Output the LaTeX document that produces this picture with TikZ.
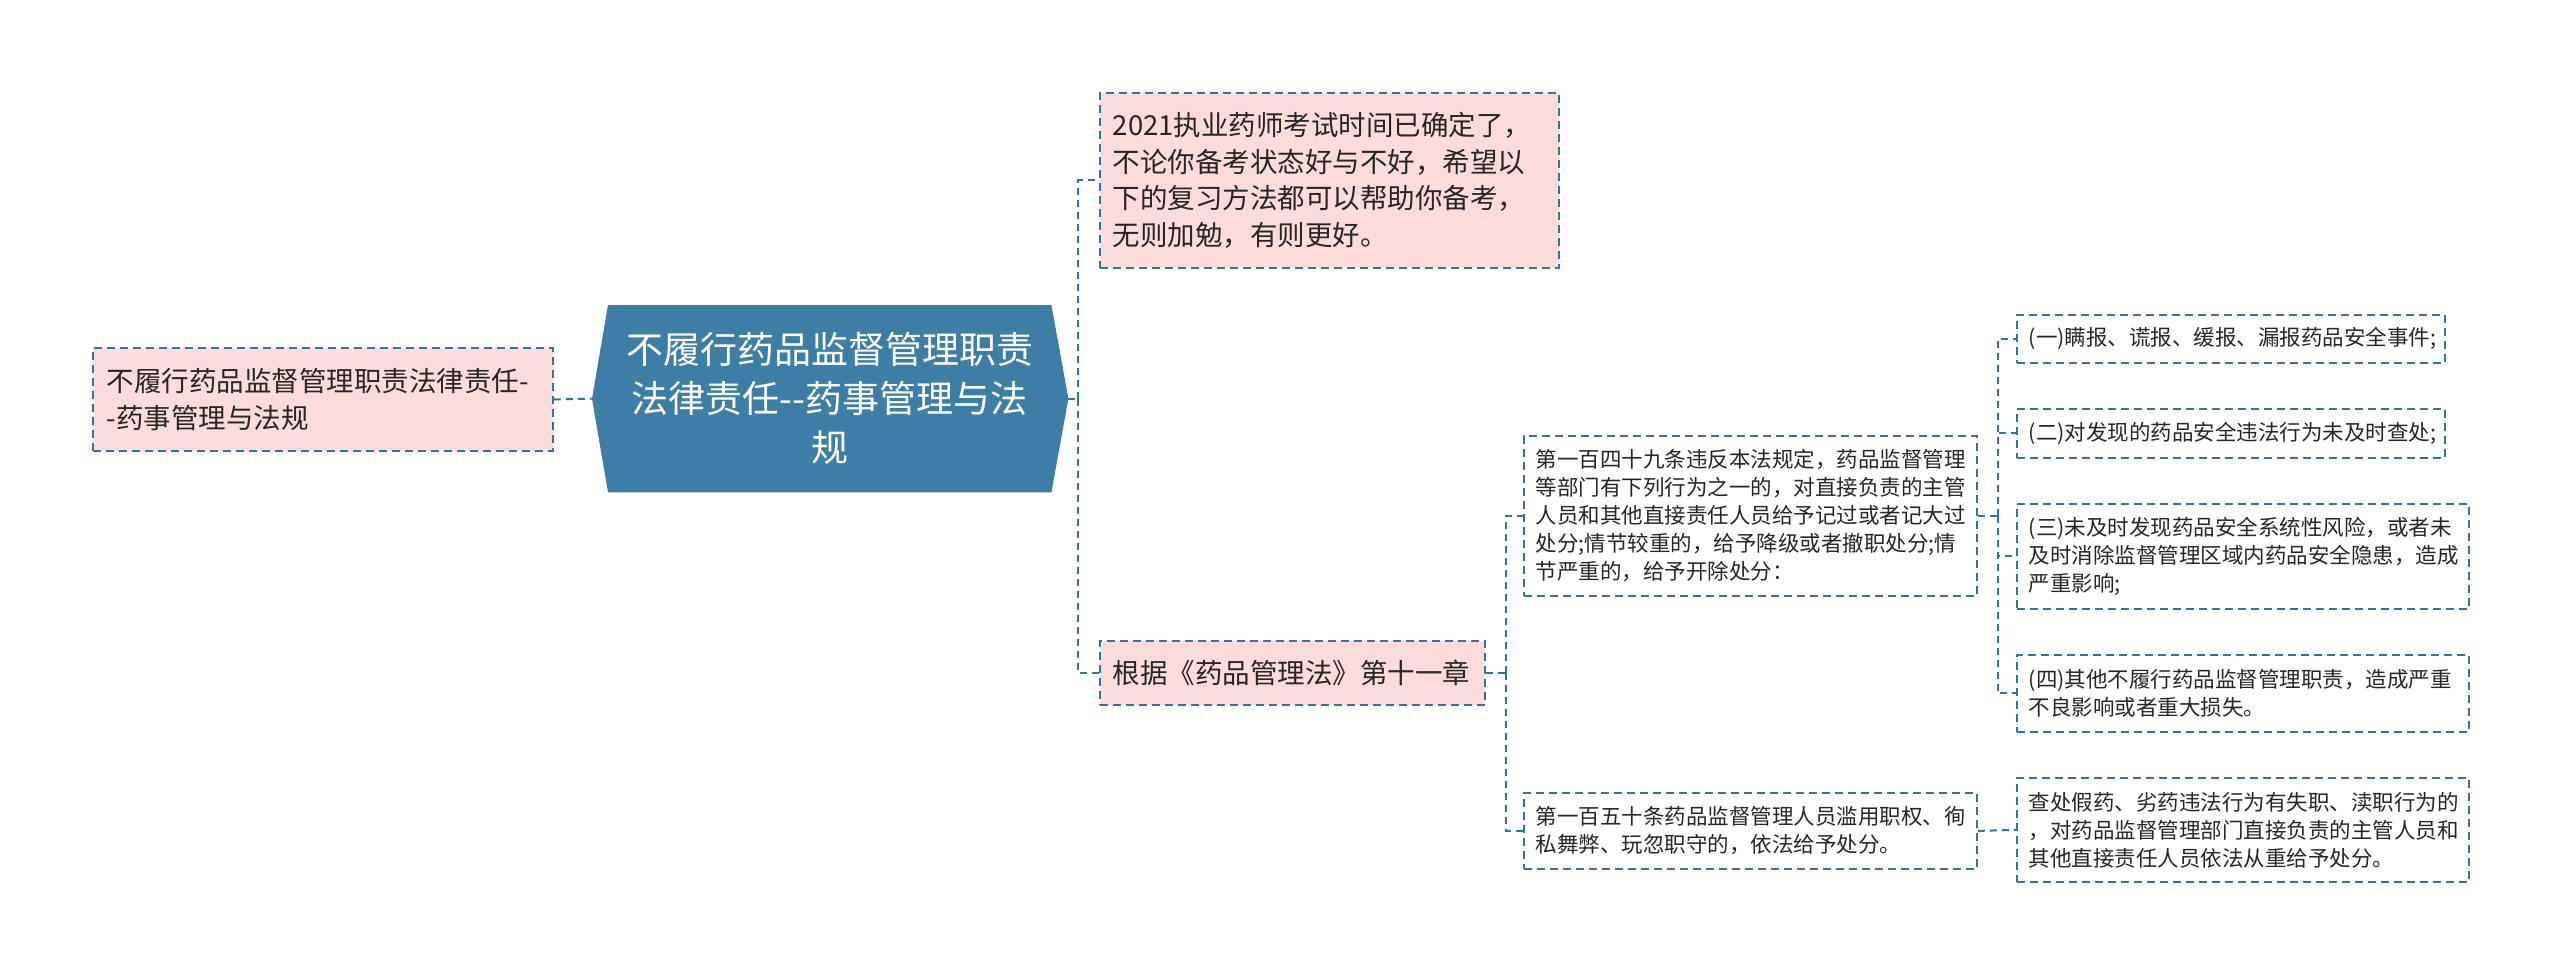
\documentclass[tikz,border=0pt]{standalone}
\usepackage{fontspec}
\setmainfont{Noto Sans CJK SC}
\usetikzlibrary{backgrounds,calc}
\definecolor{lineblue}{HTML}{36739B}
\definecolor{pinkfill}{HTML}{FCDCDB}
\definecolor{centerfill}{HTML}{3D7EA6}
\definecolor{txt}{HTML}{262626}
\begin{document}
\begin{tikzpicture}[x=1pt,y=-1pt,
  basebox/.style={rectangle, draw=lineblue, line width=1.8pt, dash pattern=on 8pt off 5pt,
    inner ysep=0pt, align=left, text=txt, anchor=north west},
  pinkbox/.style={basebox, fill=pinkfill, inner xsep=13pt, font=\fontsize{27.5pt}{36.5pt}\selectfont},
  whitebox/.style={basebox, fill=white, inner xsep=12pt, font=\fontsize{21.5pt}{28pt}\selectfont},
  centerbox/.style={rectangle, inner sep=0pt, align=center, text=white,
    font=\fontsize{37pt}{49pt}\selectfont, anchor=north west},
  conn/.style={draw=lineblue, line width=2pt, dash pattern=on 7pt off 5pt}
]
\useasboundingbox (0,0) rectangle (2560,974);

% root and left node
\node[centerbox, minimum width=443pt, minimum height=187pt, text width=430pt] (C) at (608,305)
  {不履行药品监督管理职责\\法律责任-\kern0pt-药事管理与法\\规};
\coordinate (Cw) at ([xshift=-16pt]C.west);
\coordinate (Ce) at ([xshift=17pt]C.east);
\begin{scope}[on background layer]
  \fill[centerfill] (C.north west) -- (C.north east) -- (Ce) -- (C.south east)
    -- (C.south west) -- (Cw) -- cycle;
\end{scope}

\node[pinkbox, inner xsep=14pt, text width=432pt, minimum height=103pt] (L) at (92,347)
  {不履行药品监督管理职责法律责任-\\-药事管理与法规};

% first level right
\node[pinkbox, text width=433pt, minimum height=175pt] (TR) at (1099,92)
  {2021执业药师考试时间已确定了，\\不论你备考状态好与不好，希望以\\下的复习方法都可以帮助你备考，\\无则加勉，有则更好。};
\node[pinkbox, text width=359pt, minimum height=64pt] (P) at (1099,640)
  {根据《药品管理法》第十一章};

% second level
\node[whitebox, text width=429pt, minimum height=160pt] (N149) at (1523,435)
  {第一百四十九条违反本法规定，药品监督管理\\等部门有下列行为之一的，对直接负责的主管\\人员和其他直接责任人员给予记过或者记大过\\处分;情节较重的，给予降级或者撤职处分;情\\节严重的，给予开除处分：};
\node[whitebox, text width=429pt, minimum height=76pt] (N150) at (1523,792)
  {第一百五十条药品监督管理人员滥用职权、徇\\私舞弊、玩忽职守的，依法给予处分。};

% third level
\node[whitebox, text width=404pt, minimum height=48pt] (C1) at (2016,314)
  {(一)瞒报、谎报、缓报、漏报药品安全事件;};
\node[whitebox, text width=404pt, minimum height=49pt] (C2) at (2016,408)
  {(二)对发现的药品安全违法行为未及时查处;};
\node[whitebox, text width=428pt, minimum height=105pt] (C3) at (2016,503)
  {(三)未及时发现药品安全系统性风险，或者未\\及时消除监督管理区域内药品安全隐患，造成\\严重影响;};
\node[whitebox, text width=428pt, minimum height=77pt] (C4) at (2016,654)
  {(四)其他不履行药品监督管理职责，造成严重\\不良影响或者重大损失。};
\node[whitebox, text width=428pt, minimum height=104pt] (G) at (2016,777)
  {查处假药、劣药违法行为有失职、渎职行为的\\，对药品监督管理部门直接负责的主管人员和\\其他直接责任人员依法从重给予处分。};

% connectors
\draw[conn] (L.east) -- (Cw);
\coordinate (b1) at ($(Ce)+(10,0)$);
\draw[conn] (Ce) -- (b1);
\draw[conn] (b1) |- (TR.west);
\draw[conn] (b1) |- (P.west);

\coordinate (b2) at ($(P.east)+(20,0)$);
\draw[conn] (P.east) -- (b2);
\draw[conn] (b2) |- (N149.west);
\draw[conn] (b2) |- (N150.west);

\coordinate (b3) at ($(N149.east)+(20,0)$);
\draw[conn] (N149.east) -- (b3);
\draw[conn] (b3) |- (C1.west);
\draw[conn] (b3) |- (C2.west);
\draw[conn] (b3) |- (C3.west);
\draw[conn] (b3) |- (C4.west);

\draw[conn] (N150.east) -- (G.west);
\end{tikzpicture}
\end{document}
